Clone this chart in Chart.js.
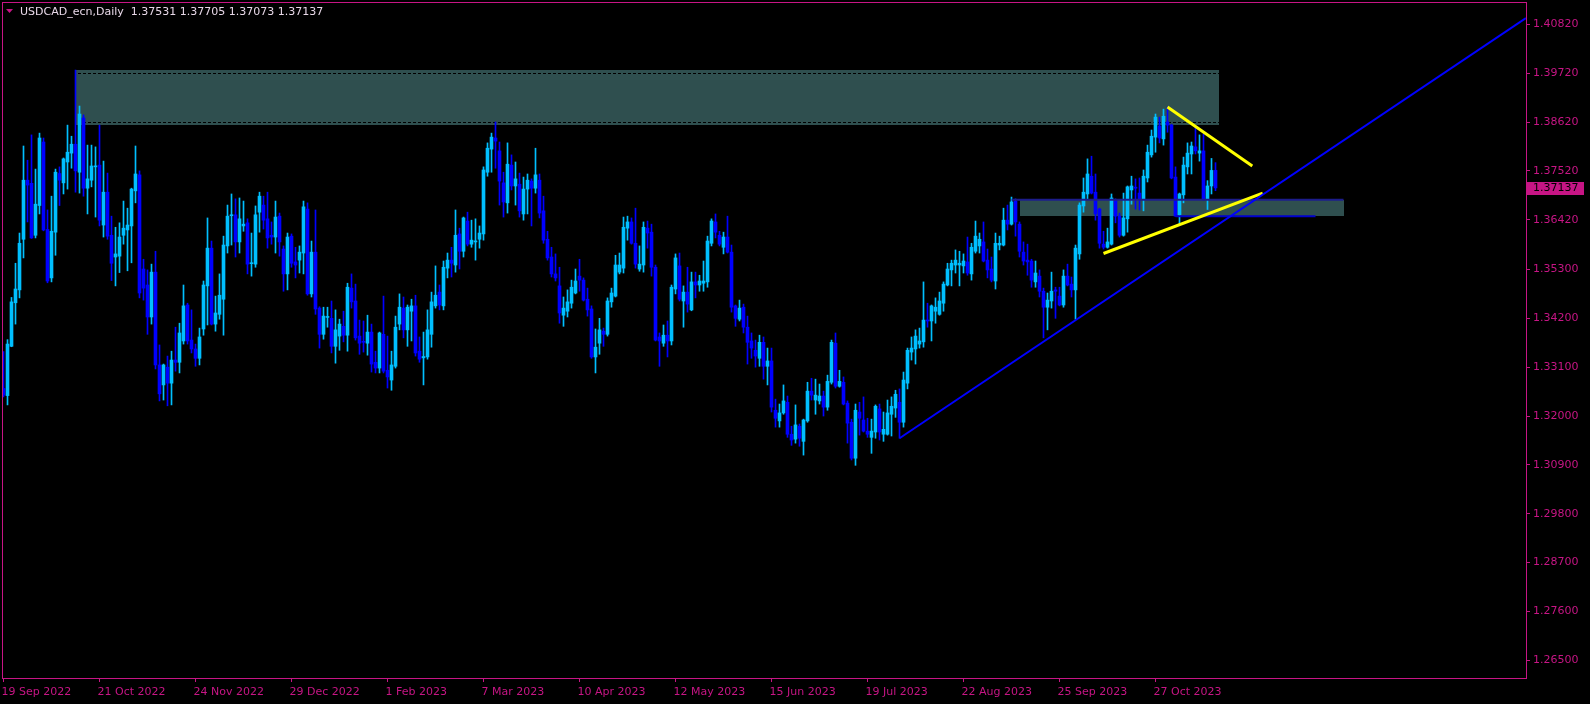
<!DOCTYPE html>
<html><head><meta charset="utf-8">
<script src="https://cdn.jsdelivr.net/npm/chart.js@4.4.1/dist/chart.umd.min.js"></script>
<style>html,body{margin:0;padding:0;background:#000;}canvas{display:block;}</style>
</head><body>
<div style="width:1590px;height:704px;position:relative"><canvas id="c" width="1590" height="704"></canvas></div>
<script>
const chartTitle = 'USDCAD_ecn,Daily';
const headerValues = ['1.37531', '1.37705', '1.37073', '1.37137'];

const opens = [1.3262,1.3246,1.3357,1.3455,1.3484,1.3598,1.3731,1.3724,1.3607,1.3674,1.3817,1.3620,1.3511,1.3614,1.3746,1.3725,1.3772,1.3792,1.3812,1.3749,
1.3871,1.3713,1.3731,1.3761,1.3765,1.3630,1.3704,1.3607,1.3558,1.3560,1.3607,1.3619,1.3628,1.3707,1.3743,1.3531,1.3495,1.3423,1.3524,1.3315,
1.3270,1.3310,1.3274,1.3326,1.3321,1.3369,1.3450,1.3371,1.3351,1.3330,1.3396,1.3493,1.3578,1.3407,1.3429,1.3463,1.3583,1.3651,1.3653,1.3592,
1.3628,1.3635,1.3543,1.3542,1.3659,1.3675,1.3644,1.3607,1.3603,1.3650,1.3576,1.3520,1.3605,1.3547,1.3551,1.3567,1.3666,1.3475,1.3569,1.3443,
1.3384,1.3422,1.3420,1.3357,1.3380,1.3402,1.3382,1.3488,1.3459,1.3380,1.3367,1.3364,1.3389,1.3321,1.3308,1.3384,1.3303,1.3281,1.3312,1.3407,
1.3443,1.3394,1.3436,1.3448,1.3346,1.3331,1.3333,1.3384,1.3448,1.3479,1.3448,1.3533,1.3551,1.3540,1.3610,1.3571,1.3639,1.3587,1.3592,1.3598,
1.3610,1.3749,1.3801,1.3826,1.3797,1.3725,1.3680,1.3765,1.3718,1.3722,1.3655,1.3711,1.3729,1.3713,1.3731,1.3662,1.3598,1.3558,1.3520,1.3493,
1.3427,1.3436,1.3454,1.3477,1.3515,1.3506,1.3463,1.3441,1.3333,1.3364,1.3391,1.3384,1.3457,1.3470,1.3524,1.3533,1.3623,1.3637,1.3589,1.3531,
1.3540,1.3623,1.3614,1.3535,1.3378,1.3364,1.3382,1.3369,1.3486,1.3538,1.3459,1.3479,1.3439,1.3502,1.3495,1.3499,1.3502,1.3589,1.3637,1.3607,
1.3580,1.3603,1.3569,1.3448,1.3418,1.3445,1.3400,1.3369,1.3348,1.3330,1.3366,1.3312,1.3324,1.3213,1.3189,1.3207,1.3231,1.3159,1.3148,1.3177,
1.3143,1.3189,1.3256,1.3236,1.3234,1.3245,1.3220,1.3276,1.3364,1.3267,1.3276,1.3229,1.3186,1.3105,1.3209,1.3191,1.3166,1.3152,1.3164,1.3216,
1.3159,1.3159,1.3204,1.3218,1.3231,1.3186,1.3274,1.3344,1.3351,1.3362,1.3367,1.3416,1.3414,1.3436,1.3429,1.3454,1.3495,1.3529,1.3540,1.3540,
1.3538,1.3547,1.3520,1.3571,1.3583,1.3592,1.3551,1.3531,1.3504,1.3585,1.3585,1.3641,1.3632,1.3684,1.3632,1.3569,1.3551,1.3549,1.3502,1.3515,
1.3481,1.3445,1.3459,1.3484,1.3470,1.3450,1.3515,1.3497,1.3484,1.3565,1.3673,1.3700,1.3740,1.3704,1.3666,1.3587,1.3580,1.3587,1.3686,1.3650,
1.3607,1.3644,1.3709,1.3715,1.3702,1.3689,1.3736,1.3788,1.3828,1.3853,1.3824,1.3862,1.3855,1.3738,1.3653,1.3698,1.3761,1.3790,1.3806,1.3792,
1.3797,1.3689,1.3718,1.37531];
const highs = [1.3345,1.3372,1.3467,1.3544,1.3612,1.3808,1.3776,1.3833,1.3756,1.3837,1.3826,1.3664,1.3695,1.3756,1.3761,1.3781,1.3855,1.3830,1.3979,1.3898,
1.3878,1.3810,1.3810,1.3806,1.3855,1.3774,1.3747,1.3650,1.3625,1.3635,1.3684,1.3668,1.3713,1.3808,1.3752,1.3553,1.3529,1.3542,1.3571,1.3360,
1.3317,1.3335,1.3346,1.3400,1.3409,1.3495,1.3454,1.3439,1.3362,1.3398,1.3504,1.3646,1.3594,1.3470,1.3520,1.3605,1.3675,1.3700,1.3689,1.3691,
1.3684,1.3644,1.3612,1.3673,1.3704,1.3695,1.3704,1.3637,1.3684,1.3657,1.3583,1.3612,1.3610,1.3580,1.3583,1.3684,1.3680,1.3594,1.3664,1.3446,
1.3445,1.3445,1.3459,1.3439,1.3418,1.3436,1.3499,1.3520,1.3497,1.3416,1.3414,1.3427,1.3407,1.3346,1.3389,1.3470,1.3380,1.3346,1.3425,1.3475,
1.3468,1.3450,1.3463,1.3472,1.3378,1.3389,1.3439,1.3479,1.3538,1.3495,1.3549,1.3567,1.3580,1.3664,1.3623,1.3648,1.3659,1.3641,1.3644,1.3628,
1.3761,1.3815,1.3837,1.3862,1.3817,1.3749,1.3815,1.3788,1.3772,1.3747,1.3738,1.3745,1.3734,1.3803,1.3745,1.3695,1.3616,1.3580,1.3565,1.3535,
1.3468,1.3484,1.3506,1.3531,1.3553,1.3511,1.3488,1.3448,1.3396,1.3420,1.3398,1.3466,1.3488,1.3562,1.3567,1.3648,1.3650,1.3646,1.3668,1.3583,
1.3637,1.3639,1.3632,1.3540,1.3387,1.3405,1.3414,1.3495,1.3565,1.3567,1.3493,1.3535,1.3524,1.3524,1.3517,1.3549,1.3605,1.3644,1.3655,1.3616,
1.3614,1.3650,1.3585,1.3450,1.3461,1.3452,1.3425,1.3387,1.3371,1.3382,1.3378,1.3353,1.3353,1.3238,1.3227,1.3270,1.3245,1.3177,1.3225,1.3182,
1.3193,1.3276,1.3285,1.3283,1.3272,1.3256,1.3292,1.3371,1.3387,1.3303,1.3288,1.3234,1.3193,1.3227,1.3231,1.3243,1.3195,1.3193,1.3225,1.3227,
1.3209,1.3236,1.3243,1.3258,1.3261,1.3299,1.3353,1.3378,1.3394,1.3398,1.3502,1.3454,1.3450,1.3466,1.3479,1.3502,1.3544,1.3551,1.3574,1.3571,
1.3565,1.3603,1.3589,1.3639,1.3612,1.3637,1.3576,1.3558,1.3612,1.3605,1.3668,1.3675,1.3693,1.3689,1.3637,1.3592,1.3587,1.3553,1.3549,1.3529,
1.3488,1.3477,1.3524,1.3490,1.3490,1.3529,1.3542,1.3513,1.3585,1.3680,1.3736,1.3779,1.3785,1.3745,1.3668,1.3616,1.3623,1.3700,1.3689,1.3657,
1.3702,1.3718,1.3740,1.3734,1.3736,1.3754,1.3810,1.3844,1.3880,1.3873,1.3891,1.3896,1.3857,1.3761,1.3702,1.3783,1.3815,1.3817,1.3851,1.3833,
1.3835,1.3730,1.3780,1.37705];
const lows = [1.3243,1.3225,1.3356,1.3407,1.3466,1.3556,1.3637,1.3600,1.3601,1.3655,1.3617,1.3500,1.3502,1.3562,1.3674,1.3700,1.3711,1.3758,1.3704,1.3702,
1.3695,1.3655,1.3716,1.3648,1.3628,1.3603,1.3598,1.3505,1.3493,1.3523,1.3587,1.3527,1.3545,1.3680,1.3466,1.3461,1.3384,1.3407,1.3306,1.3234,
1.3236,1.3223,1.3225,1.3301,1.3297,1.3362,1.3362,1.3342,1.3312,1.3315,1.3382,1.3405,1.3405,1.3391,1.3418,1.3382,1.3567,1.3585,1.3558,1.3567,
1.3616,1.3520,1.3515,1.3535,1.3614,1.3621,1.3578,1.3587,1.3567,1.3560,1.3481,1.3484,1.3535,1.3511,1.3522,1.3520,1.3472,1.3468,1.3429,1.3353,
1.3373,1.3400,1.3342,1.3319,1.3348,1.3367,1.3346,1.3443,1.3371,1.3339,1.3344,1.3337,1.3299,1.3297,1.3297,1.3297,1.3263,1.3258,1.3308,1.3394,
1.3376,1.3357,1.3369,1.3335,1.3321,1.3270,1.3328,1.3355,1.3443,1.3439,1.3439,1.3511,1.3513,1.3524,1.3531,1.3558,1.3583,1.3580,1.3551,1.3578,
1.3596,1.3740,1.3749,1.3758,1.3675,1.3648,1.3657,1.3709,1.3675,1.3648,1.3641,1.3655,1.3628,1.3702,1.3646,1.3589,1.3551,1.3513,1.3504,1.3409,
1.3402,1.3423,1.3443,1.3475,1.3481,1.3459,1.3425,1.3330,1.3297,1.3339,1.3357,1.3380,1.3445,1.3468,1.3520,1.3522,1.3596,1.3587,1.3533,1.3526,
1.3524,1.3578,1.3515,1.3369,1.3312,1.3357,1.3333,1.3360,1.3475,1.3459,1.3400,1.3434,1.3437,1.3466,1.3481,1.3481,1.3490,1.3583,1.3601,1.3583,
1.3565,1.3567,1.3434,1.3402,1.3414,1.3387,1.3317,1.3330,1.3310,1.3312,1.3283,1.3270,1.3209,1.3175,1.3175,1.3204,1.3152,1.3134,1.3139,1.3132,
1.3112,1.3186,1.3236,1.3204,1.3227,1.3200,1.3213,1.3272,1.3263,1.3265,1.3225,1.3139,1.3101,1.3089,1.3157,1.3164,1.3152,1.3116,1.3150,1.3146,
1.3143,1.3157,1.3155,1.3197,1.3150,1.3175,1.3261,1.3326,1.3317,1.3353,1.3355,1.3400,1.3369,1.3409,1.3427,1.3436,1.3493,1.3493,1.3522,1.3493,
1.3522,1.3517,1.3506,1.3567,1.3567,1.3547,1.3511,1.3502,1.3486,1.3574,1.3583,1.3619,1.3630,1.3605,1.3558,1.3540,1.3517,1.3490,1.3490,1.3468,
1.3376,1.3394,1.3443,1.3420,1.3448,1.3445,1.3493,1.3468,1.3418,1.3553,1.3659,1.3689,1.3700,1.3641,1.3578,1.3576,1.3578,1.3585,1.3635,1.3603,
1.3605,1.3614,1.3677,1.3666,1.3664,1.3662,1.3727,1.3783,1.3794,1.3815,1.3810,1.3839,1.3734,1.3650,1.3632,1.3680,1.3745,1.3745,1.3790,1.3774,
1.3686,1.3665,1.3700,1.37073];
const closes = [1.3247,1.3362,1.3457,1.3486,1.3589,1.3731,1.3720,1.3601,1.3677,1.3826,1.3619,1.3504,1.3616,1.3749,1.3731,1.3779,1.3794,1.3812,1.3752,1.3880,
1.3713,1.3734,1.3763,1.3763,1.3641,1.3704,1.3605,1.3544,1.3565,1.3603,1.3623,1.3630,1.3711,1.3745,1.3477,1.3488,1.3423,1.3524,1.3315,1.3250,
1.3315,1.3274,1.3326,1.3321,1.3387,1.3448,1.3369,1.3351,1.3330,1.3378,1.3495,1.3578,1.3407,1.3432,1.3472,1.3585,1.3650,1.3653,1.3592,1.3644,
1.3632,1.3542,1.3544,1.3653,1.3695,1.3641,1.3601,1.3603,1.3648,1.3592,1.3520,1.3603,1.3544,1.3540,1.3569,1.3671,1.3475,1.3569,1.3441,1.3384,
1.3425,1.3423,1.3357,1.3394,1.3407,1.3382,1.3490,1.3457,1.3376,1.3364,1.3366,1.3389,1.3317,1.3308,1.3387,1.3301,1.3288,1.3315,1.3400,1.3445,
1.3394,1.3445,1.3448,1.3342,1.3328,1.3334,1.3394,1.3457,1.3472,1.3450,1.3535,1.3551,1.3544,1.3607,1.3571,1.3646,1.3587,1.3596,1.3594,1.3612,
1.3754,1.3803,1.3828,1.3819,1.3729,1.3682,1.3767,1.3718,1.3734,1.3662,1.3711,1.3731,1.3713,1.3743,1.3657,1.3596,1.3556,1.3520,1.3511,1.3432,
1.3443,1.3457,1.3490,1.3504,1.3506,1.3461,1.3439,1.3333,1.3355,1.3394,1.3384,1.3459,1.3477,1.3540,1.3540,1.3625,1.3637,1.3589,1.3542,1.3542,
1.3625,1.3612,1.3535,1.3371,1.3369,1.3382,1.3369,1.3490,1.3556,1.3463,1.3479,1.3452,1.3502,1.3495,1.3504,1.3504,1.3594,1.3639,1.3614,1.3587,
1.3603,1.3569,1.3445,1.3420,1.3443,1.3400,1.3366,1.3353,1.3335,1.3366,1.3312,1.3324,1.3220,1.3195,1.3207,1.3234,1.3159,1.3146,1.3180,1.3150,
1.3191,1.3256,1.3247,1.3247,1.3245,1.3220,1.3278,1.3366,1.3267,1.3278,1.3227,1.3184,1.3105,1.3213,1.3195,1.3166,1.3159,1.3166,1.3222,1.3164,
1.3170,1.3207,1.3222,1.3249,1.3186,1.3281,1.3348,1.3353,1.3380,1.3369,1.3416,1.3414,1.3448,1.3445,1.3459,1.3497,1.3531,1.3544,1.3551,1.3544,
1.3549,1.3522,1.3580,1.3605,1.3598,1.3549,1.3529,1.3506,1.3589,1.3589,1.3641,1.3632,1.3682,1.3637,1.3571,1.3549,1.3547,1.3506,1.3522,1.3481,
1.3445,1.3461,1.3481,1.3481,1.3450,1.3515,1.3495,1.3484,1.3578,1.3675,1.3704,1.3745,1.3702,1.3655,1.3589,1.3580,1.3592,1.3691,1.3650,1.3607,
1.3646,1.3716,1.3718,1.3713,1.3689,1.3740,1.3794,1.3830,1.3873,1.3826,1.3875,1.3855,1.3736,1.3650,1.3700,1.3765,1.3792,1.3808,1.3797,1.3797,
1.3689,1.3718,1.3753,1.37137];

const dateTickIndex = [0,24,48,72,96,120,144,168,192,216,240,264,288];
const dateTickLabels = ['19 Sep 2022','21 Oct 2022','24 Nov 2022','29 Dec 2022','1 Feb 2023','7 Mar 2023','10 Apr 2023','12 May 2023','15 Jun 2023','19 Jul 2023','22 Aug 2023','25 Sep 2023','27 Oct 2023'];
const priceTickLabels = ['1.40820','1.39720','1.38620','1.37520','1.36420','1.35300','1.34200','1.33100','1.32000','1.30900','1.29800','1.28700','1.27600','1.26500'];

// zones: [startIndex, endIndex, topPrice, bottomPrice]
const zoneStart = [18, 254];
const zoneEnd = [303.7, 335];
const zoneTop = [1.3979, 1.3687];
const zoneBottom = [1.3855, 1.3650];

const blueTrend = [{x:224, y:1.3150}, {x:380.6, y:1.4096}];
const yellowUpper = [{x:291, y:1.3896}, {x:312.2, y:1.3763}];
const yellowLower = [{x:275, y:1.3566}, {x:314.8, y:1.3702}];
const navyLevel = [{x:252, y:1.3687}, {x:335, y:1.3687}];
const blueLevel = [{x:293, y:1.3650}, {x:328, y:1.3650}];

const MAG = '#C71585';
const BULL = '#00BFFF';
const BEAR = '#0000FF';
const lastClose = closes[closes.length - 1];

const wickData = highs.map((h, i) => ({x: i, y: [lows[i], h]}));
const bodyData = opens.map((o, i) => ({x: i, y: [o, closes[i]]}));
const candleColors = opens.map((o, i) => closes[i] >= o ? BULL : BEAR);

Chart.defaults.font.family = 'DejaVu Sans';
Chart.defaults.font.size = 11;

const decor = {
  id: 'decor',
  beforeDraw(chart) {
    const {ctx, width, height} = chart;
    ctx.save();
    ctx.fillStyle = '#000';
    ctx.fillRect(0, 0, width, height);
    ctx.restore();
  },
  beforeDatasetsDraw(chart) {
    const {ctx, chartArea: a, scales: {x, y}} = chart;
    ctx.save();
    ctx.beginPath();
    ctx.rect(a.left, a.top, a.right - a.left, a.bottom - a.top);
    ctx.clip();
    ctx.fillStyle = '#2F4F4F';
    for (let k = 0; k < zoneStart.length; k++) {
      const x0 = x.getPixelForValue(zoneStart[k]);
      const x1 = x.getPixelForValue(zoneEnd[k]);
      const y0 = y.getPixelForValue(zoneTop[k]);
      const y1 = y.getPixelForValue(zoneBottom[k]);
      ctx.fillRect(Math.round(x0), Math.round(y0), Math.round(x1 - x0), Math.round(y1 - y0));
    }
    ctx.strokeStyle = '#000';
    ctx.lineWidth = 1;
    ctx.setLineDash([3, 2]);
    priceTickLabels.forEach(t => {
      const py = Math.round(y.getPixelForValue(parseFloat(t))) + 0.5;
      ctx.beginPath();
      ctx.moveTo(a.left, py);
      ctx.lineTo(a.right, py);
      ctx.stroke();
    });
    ctx.restore();
  },
  afterDraw(chart) {
    const {ctx, chartArea: a, scales: {y}} = chart;
    ctx.save();
    ctx.strokeStyle = MAG;
    ctx.lineWidth = 1;
    ctx.strokeRect(a.left - 0.5, a.top - 0.5, a.right - a.left + 1, a.bottom - a.top + 1);
    const py = y.getPixelForValue(lastClose);
    ctx.fillStyle = MAG;
    ctx.fillRect(a.right + 1, Math.round(py) - 6, 57, 13);
    ctx.fillStyle = '#000';
    ctx.font = '11px "DejaVu Sans"';
    ctx.textBaseline = 'middle';
    ctx.textAlign = 'left';
    ctx.fillText(lastClose.toFixed(5), a.right + 7, Math.round(py) + 0.5);
    ctx.fillStyle = MAG;
    ctx.beginPath();
    ctx.moveTo(6, 9); ctx.lineTo(13, 9); ctx.lineTo(9.5, 13);
    ctx.closePath();
    ctx.fill();
    ctx.fillStyle = '#E8D8E8';
    ctx.fillText(chartTitle + '  ' + headerValues.join(' '), 20, 12.5);
    ctx.restore();
  }
};

const lineDs = (data, color, w) => ({type: 'line', data, borderColor: color, borderWidth: w, pointRadius: 0, fill: false, tension: 0, order: 0});
const zeroPad = s => { s.paddingTop = 0; s.paddingBottom = 0; s.paddingLeft = 0; s.paddingRight = 0; };

new Chart(document.getElementById('c'), {
  type: 'bar',
  data: {
    datasets: [
      lineDs(blueTrend, '#0000FF', 2),
      lineDs(yellowUpper, '#FFFF00', 3),
      lineDs(yellowLower, '#FFFF00', 3),
      lineDs(navyLevel, '#1C1C8C', 2),
      lineDs(blueLevel, '#0000CD', 2),
      {data: bodyData, backgroundColor: candleColors, barThickness: 3, minBarLength: 1, grouped: false, order: 1},
      {data: wickData, backgroundColor: candleColors, barThickness: 1, minBarLength: 1, grouped: false, order: 2}
    ]
  },
  options: {
    responsive: false,
    animation: false,
    events: [],
    layout: {padding: {left: 3, top: 3, right: 0, bottom: 0}},
    plugins: {legend: {display: false}, tooltip: {enabled: false}},
    scales: {
      x: {
        type: 'linear', min: -0.125, max: 380.625, position: 'bottom', offset: false,
        grid: {offset: false, drawOnChartArea: false, drawTicks: true, tickLength: 4, tickColor: MAG},
        border: {display: false},
        ticks: {autoSkip: false, maxRotation: 0, minRotation: 0, align: 'start', color: MAG, padding: 4, labelOffset: -2,
          callback: (v, i) => dateTickLabels[i]},
        afterBuildTicks: s => { s.ticks = dateTickIndex.map(v => ({value: v})); },
        afterFit: s => { s.height = 26; zeroPad(s); }
      },
      y: {
        type: 'linear', position: 'right', min: 1.26101, max: 1.41300,
        grid: {drawOnChartArea: false, drawTicks: true, tickLength: 4, tickColor: MAG},
        border: {display: false},
        ticks: {color: MAG, padding: 3, crossAlign: 'near', callback: (v, i) => priceTickLabels[i]},
        afterBuildTicks: s => { s.ticks = priceTickLabels.map(t => ({value: parseFloat(t)})); },
        afterFit: s => { s.width = 64; zeroPad(s); }
      }
    }
  },
  plugins: [decor]
});
</script>
</body></html>
